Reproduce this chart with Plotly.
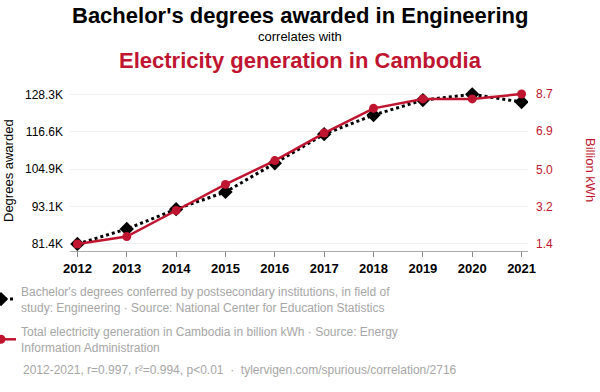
import plotly.graph_objects as go

years = [2012, 2013, 2014, 2015, 2016, 2017, 2018, 2019, 2020, 2021]
degrees = [81.4, 86.1, 92.3, 97.7, 106.7, 115.8, 121.8, 126.5, 128.3, 125.9]
electricity = [1.4, 1.76, 3.03, 4.30, 5.46, 6.80, 8.00, 8.46, 8.46, 8.7]
left_ticks = [81.4, 93.1, 104.9, 116.6, 128.3]
left_labels = ["81.4K", "93.1K", "104.9K", "116.6K", "128.3K"]
right_ticks = [1.4, 3.2, 5.0, 6.9, 8.7]
right_labels = ["1.4", "3.2", "5.0", "6.9", "8.7"]

RED = "#bf1530"
GRAY = "#a6a6a6"
FONT = "Liberation Sans, Arial, sans-serif"

L, R, T, B = 70, 72, 87, 141
pw, ph = 600 - L - R, 392 - T - B

def px_x(x):
    return (x - L) / pw

def px_y(y):
    return (392 - B - y) / ph

fig = go.Figure()
fig.add_trace(go.Scatter(
    x=years, y=electricity, mode="lines+markers", yaxis="y2",
    line=dict(color=RED, width=2.5),
    marker=dict(symbol="circle", size=9, color=RED),
    name="Total electricity generation in Cambodia in billion kWh · Source: Energy<br>Information Administration",
    legendgroup="b", legendrank=2,
))
fig.add_trace(go.Scatter(
    x=years, y=degrees, mode="lines+markers", yaxis="y",
    line=dict(color="black", width=3, dash="dot"),
    marker=dict(symbol="diamond", size=11, color="black"),
    name="Bachelor's degrees conferred by postsecondary institutions, in field of<br>study: Engineering · Source: National Center for Education Statistics",
    legendgroup="a", legendrank=1,
))

fig.update_layout(
    width=600, height=392,
    margin=dict(l=L, r=R, t=T, b=B, autoexpand=False),
    paper_bgcolor="white", plot_bgcolor="white",
    font=dict(family=FONT, size=12, color="black"),
    showlegend=True,
    legend=dict(
        x=px_x(-19), xanchor="left", y=px_y(277), yanchor="top",
        font=dict(size=12, color=GRAY, family=FONT),
        traceorder="grouped", tracegroupgap=6,
        bgcolor="rgba(0,0,0,0)",
    ),
    xaxis=dict(
        range=[2011.85, 2021.13], tickmode="array", tickvals=years,
        ticktext=[str(y) for y in years],
        tickfont=dict(size=13, color="black", family=FONT, weight="bold"),
        showgrid=False, showline=True, linecolor="#aaaaaa", linewidth=1,
        ticks="outside", ticklen=5, tickcolor="#888888", zeroline=False,
    ),
    yaxis=dict(
        range=[79.2, 130.6], tickmode="array", tickvals=left_ticks, ticktext=left_labels,
        tickfont=dict(size=12, color="black"), showgrid=True, gridcolor="#f0f0f0",
        zeroline=False, ticks="", automargin=False, ticklabelstandoff=6,
    ),
    yaxis2=dict(
        range=[1.06, 9.04], overlaying="y", side="right", tickmode="array",
        tickvals=right_ticks, ticktext=right_labels,
        tickfont=dict(size=12, color=RED), showgrid=False, zeroline=False, automargin=False,
        ticklabelstandoff=7,
    ),
    annotations=[
        dict(text="<b>Bachelor's degrees awarded in Engineering</b>", x=px_x(300), y=px_y(15),
             showarrow=False, font=dict(size=22, color="black", family=FONT)),
        dict(text="correlates with", x=px_x(300), y=px_y(37), showarrow=False,
             font=dict(size=13, color="black", family=FONT)),
        dict(text="<b>Electricity generation in Cambodia</b>", x=px_x(300), y=px_y(60), showarrow=False,
             font=dict(size=22, color=RED, family=FONT)),
        dict(text="Degrees awarded", x=px_x(8), y=px_y(170), textangle=-90, showarrow=False,
             font=dict(size=13, color="black", family=FONT)),
        dict(text="Billion kWh", x=px_x(591), y=px_y(170), textangle=90, showarrow=False,
             font=dict(size=13, color=RED, family=FONT)),
        dict(text="2012-2021, r=0.997, r²=0.994, p<0.01  ·  tylervigen.com/spurious/correlation/2716",
             x=px_x(21), y=px_y(370), xanchor="left",
             showarrow=False, font=dict(size=12, color=GRAY, family=FONT)),
    ],
)
for a in fig.layout.annotations:
    a.xref = "paper"
    a.yref = "paper"
    a.yanchor = "middle"
    if a.xanchor != "left":
        a.xanchor = "center"

fig.write_html("out.html", config={"displayModeBar": False},
               post_script="document.body.style.margin='0';document.body.style.overflow='hidden';")
